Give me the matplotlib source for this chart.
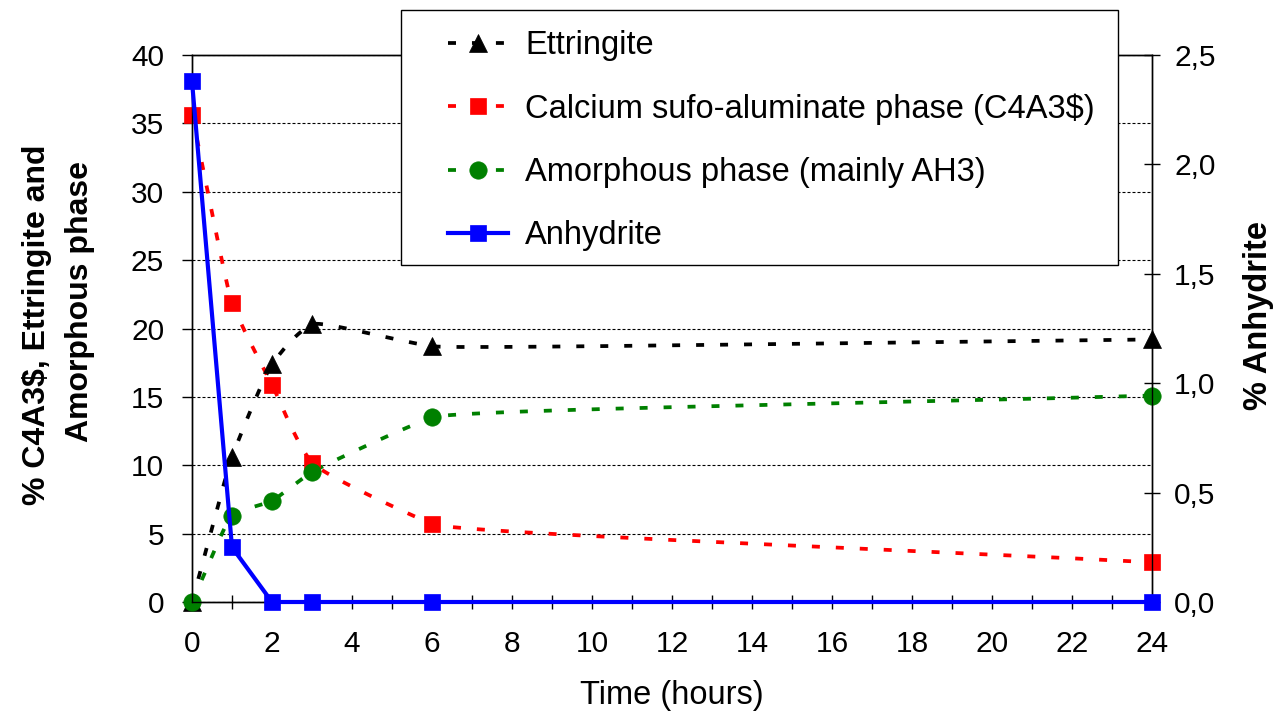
import numpy as np
import matplotlib
matplotlib.use("Agg")
import matplotlib.pyplot as plt
from matplotlib.patches import Rectangle
from matplotlib.lines import Line2D
from matplotlib.ticker import MultipleLocator, FuncFormatter

# Hydration time (hours) and phase contents
hours = [0, 1, 2, 3, 6, 24]
ettringite = [0.0, 10.6, 17.4, 20.3, 18.7, 19.2]
c4a3s = [35.6, 21.9, 15.9, 10.2, 5.7, 2.9]
amorphous = [0.0, 6.3, 7.4, 9.5, 13.5, 15.1]
anhydrite = [2.38, 0.25, 0.0, 0.0, 0.0, 0.0]

labels = ["Ettringite",
          "Calcium sufo-aluminate phase (C4A3$)",
          "Amorphous phase (mainly AH3)",
          "Anhydrite"]

plt.rcParams["font.family"] = ["Liberation Sans", "DejaVu Sans"]

W, H = 1276, 717
fig = plt.figure(figsize=(W / 100, H / 100), dpi=100)
ax = fig.add_axes([192 / W, 1 - 602 / H, (1152 - 192) / W, (602 - 55) / H])
ax2 = ax.twinx()

ax.set_xlim(0, 24)
ax.set_ylim(0, 40)
ax2.set_ylim(0, 2.5)


def smooth_curve(axis, x, y, steps=40):
    """Gently smoothed line through the points: cubic Bezier segments built in
    display space, with tangents weighted towards the shorter neighbouring
    segment and short handles, returned in data coordinates."""
    pts = axis.transData.transform(np.column_stack([x, y]).astype(float))
    n = len(pts)
    seg_vec = np.diff(pts, axis=0)
    seg_len = np.hypot(seg_vec[:, 0], seg_vec[:, 1])
    unit = seg_vec / seg_len[:, None]

    tang = np.zeros_like(pts)
    tang[0] = unit[0]
    tang[-1] = unit[-1]
    for i in range(1, n - 1):
        v = unit[i - 1] * seg_len[i] + unit[i] * seg_len[i - 1]
        tang[i] = v / np.hypot(*v)

    t = np.linspace(0, 1, steps)[:, None]
    out = [pts[:1]]
    for i in range(n - 1):
        d = seg_len[i]
        h0 = min(d / 3, seg_len[i - 1] / 6) if i > 0 else d / 3
        h1 = min(d / 3, seg_len[i + 1] / 6) if i < n - 2 else d / 3
        p1, p2 = pts[i], pts[i + 1]
        c1 = p1 + tang[i] * h0
        c2 = p2 - tang[i + 1] * h1
        seg = ((1 - t) ** 3 * p1 + 3 * (1 - t) ** 2 * t * c1
               + 3 * (1 - t) * t ** 2 * c2 + t ** 3 * p2)
        out.append(seg[1:])
    curve = axis.transData.inverted().transform(np.vstack(out))
    return curve[:, 0], curve[:, 1]


dash_lw = 2.7
dash_seq = (2.13, 4.26)
styles = [
    (ettringite, "black", "^", 13),
    (c4a3s, "#ff0000", "s", 11.5),
    (amorphous, "#008000", "o", 12.5),
]

handles = []
for (vals, col, mk, ms), lab in zip(styles, labels[:3]):
    cx, cy = smooth_curve(ax, hours, vals)
    ax.plot(cx, cy, color=col, lw=dash_lw, dashes=dash_seq,
            dash_capstyle="butt", clip_on=False, zorder=2)
    ax.plot(hours, vals, ls="none", marker=mk, ms=ms, color=col, mec=col,
            mew=0.5, clip_on=False, zorder=3)
    handles.append(Line2D([], [], color=col, lw=dash_lw, dashes=dash_seq,
                          dash_capstyle="butt", marker=mk, ms=ms, mec=col,
                          mew=0.5, label=lab))

ax2.plot(hours, anhydrite, color="#0000ff", lw=3, marker="s", ms=11.5,
         mec="#0000ff", mew=0.5, clip_on=False, zorder=3)
handles.append(Line2D([], [], color="#0000ff", lw=3, marker="s", ms=11.5,
                      mec="#0000ff", mew=0.5, label=labels[3]))

# Axes, ticks and grid
ax.xaxis.set_major_locator(MultipleLocator(2))
ax.xaxis.set_minor_locator(MultipleLocator(1))
ax.yaxis.set_major_locator(MultipleLocator(5))
ax2.yaxis.set_major_locator(MultipleLocator(0.5))
ax2.yaxis.set_major_formatter(FuncFormatter(lambda v, p: f"{v:.1f}".replace(".", ",")))

ax.yaxis.grid(True, color="black", lw=0.8, linestyle=(0, (2.7, 1.8)))
ax.xaxis.grid(False)

ax.tick_params(axis="x", which="both", direction="inout", length=10, width=1,
               labelsize=21.5, pad=15)
ax.tick_params(axis="y", direction="out", length=7, width=1, labelsize=21.5,
               pad=13, right=False)
ax2.tick_params(axis="y", direction="inout", length=12, width=1, labelsize=21.5,
                pad=10)

for a in (ax, ax2):
    for s in a.spines.values():
        s.set_linewidth(1.0)
        s.set_color("black")

ax.set_xlabel("Time (hours)", fontsize=23.5)
ax.xaxis.set_label_coords(0.5, (602 - 680) / 547)

fig.text(37 / W, 1 - 325 / H, "% C4A3$, Ettringite and", rotation=90,
         ha="center", va="center", fontsize=23, fontweight="bold")
fig.text(80 / W, 1 - 301 / H, "Amorphous phase", rotation=90,
         ha="center", va="center", fontsize=23, fontweight="bold")
fig.text(1258 / W, 1 - 316 / H, "% Anhydrite", rotation=90,
         ha="center", va="center", fontsize=23.5, fontweight="bold")

# Legend box
box = Rectangle((401 / W, 1 - 265 / H), (1118 - 401) / W, (265 - 10) / H,
                transform=fig.transFigure, facecolor="white", edgecolor="black",
                lw=1.0, zorder=10, clip_on=False)
ax2.add_patch(box)
leg = ax2.legend(handles=handles, loc="upper left",
                 bbox_to_anchor=(448 / W, 1 - 30 / H),
                 bbox_transform=fig.transFigure, frameon=False, borderpad=0,
                 borderaxespad=0, fontsize=23.5, handlelength=1.84,
                 handletextpad=0.52, labelspacing=0.99, numpoints=1)
leg.set_zorder(11)

fig.savefig("out.png", dpi=100)
